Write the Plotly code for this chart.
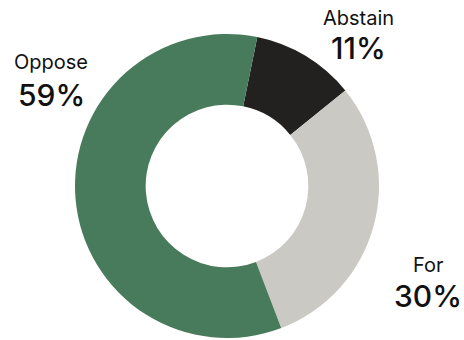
import plotly.graph_objects as go

labels = ["Abstain", "For", "Oppose"]
values = [11, 30, 59]
colors = ["#22211f", "#cbc9c4", "#487b5b"]

W, H = 464, 340
cx, cy, r = 227, 186, 152

fig = go.Figure(go.Pie(
    labels=labels, values=values, sort=False, direction="clockwise",
    rotation=11.5, hole=0.535, textinfo="none", hoverinfo="label+percent",
    marker=dict(colors=colors, line=dict(width=0)),
    domain=dict(x=[(cx - r) / W, (cx + r) / W], y=[(H - cy - r) / H, (H - cy + r) / H]),
    showlegend=False,
))

label_pos = {"Abstain": (358, 18, 48), "For": (428, 265, 296), "Oppose": (51, 62, 95)}
font = "Inter, Lato, sans-serif"
total = sum(values)
for lab, val in zip(labels, values):
    x, y1, y2 = label_pos[lab]
    fig.add_annotation(x=x / W, y=1 - y1 / H, xref="paper", yref="paper", text=lab,
                       showarrow=False, font=dict(family=font, size=20, color="#111"),
                       xanchor="center", yanchor="middle")
    fig.add_annotation(x=x / W, y=1 - y2 / H, xref="paper", yref="paper",
                       text=f"{round(val / total * 100)}%",
                       showarrow=False, font=dict(family=font, size=30, color="#111", weight=500),
                       xanchor="center", yanchor="middle")

fig.update_layout(width=W, height=H, margin=dict(l=0, r=0, t=0, b=0),
                  paper_bgcolor="white", plot_bgcolor="white")
fig.write_html("out.html", config={"displayModeBar": False},
               post_script="document.body.style.margin='0';")
